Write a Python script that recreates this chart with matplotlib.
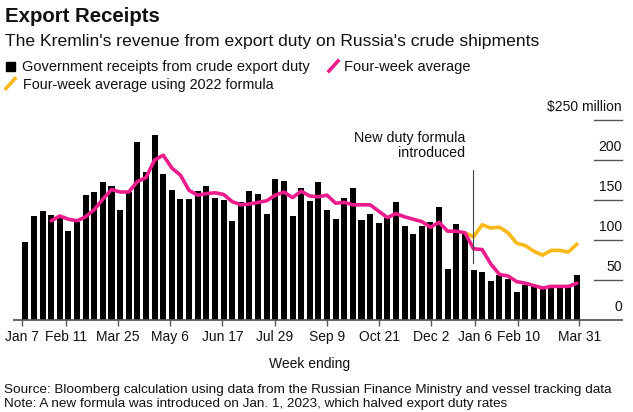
import matplotlib
matplotlib.use("Agg")
import matplotlib.pyplot as plt
import matplotlib.transforms as mtransforms
from matplotlib.patches import Rectangle
from matplotlib.lines import Line2D
import numpy as np

plt.rcParams['font.family'] = ['Liberation Sans', 'DejaVu Sans']

# weekly receipts, $ million, week ending Jan 7 2022 .. Mar 31 2023
receipts = [98, 130, 136, 131, 127, 111, 122, 156, 160, 172,
            167, 138, 160, 222, 185, 231, 183, 162, 151, 151,
            161, 168, 152, 150, 124, 147, 161, 157, 132, 176,
            174, 130, 165, 149, 172, 138, 126, 153, 165, 125,
            133, 121, 128, 148, 117, 108, 117, 122, 141, 64,
            120, 108, 62, 60, 49, 56, 51, 35, 44, 42,
            40, 41, 41, 41, 56]

# four-week average, starts at week 4
avg_4wk = [124, 130, 126, 124, 129, 138, 151, 163, 160, 160,
           173, 178, 200, 206, 190, 181, 162, 156, 158, 159,
           157, 148, 144, 145, 147, 149, 156, 160, 153, 161,
           155, 154, 156, 146, 147, 144, 144, 144, 136, 128,
           133, 129, 126, 123, 116, 122, 111, 111, 109, 89,
           88, 70, 57, 55, 48, 46, 43, 40, 42, 42,
           42, 46]
avg_start = 3

# four-week average with the old (2022) formula, from the week ending Dec 30
avg_old = [109, 104, 119, 115, 116, 109, 96, 93, 86, 81, 87, 87, 85, 95]
old_start = 51

tick_weeks = [0, 5, 11, 17, 23, 29, 35, 41, 47, 52, 57, 64]
tick_labels = ['Jan 7', 'Feb 11', 'Mar 25', 'May 6', 'Jun 17', 'Jul 29',
               'Sep 9', 'Oct 21', 'Dec 2', 'Jan 6', 'Feb 10', 'Mar 31']

y_ticks = [0, 50, 100, 150, 200, 250]
y_labels = ['0', '50', '100', '150', '200', '$250 million']

PINK = '#ec1c8c'
YELLOW = '#fbb819'
TEXT = '#111111'
AXIS = '#555555'

W, H = 633, 412
fig = plt.figure(figsize=(W / 100, H / 100), dpi=100)

def fx(px):
    return px / W

def fy(py):
    return 1 - py / H

ax = fig.add_axes([fx(14), fy(320), fx(608), (320 - 120) / H])
ax.set_ylim(0, 250)
ax.set_xlim(-1.31, 69.22)

x = np.arange(len(receipts))
ax.bar(x, receipts, width=0.7, color='black', zorder=2)
ax.plot(x[avg_start:avg_start + len(avg_4wk)], avg_4wk, color=PINK, lw=2.6,
        solid_joinstyle='round', solid_capstyle='round', zorder=4)
ax.plot(x[old_start:old_start + len(avg_old)], avg_old, color=YELLOW, lw=2.6,
        solid_joinstyle='round', solid_capstyle='round', zorder=3)

for s in ['top', 'right', 'left']:
    ax.spines[s].set_visible(False)
ax.spines['bottom'].set_color(AXIS)
ax.spines['bottom'].set_linewidth(1.3)

tick_pos = [-0.35 + w * 64.62 / 64 for w in tick_weeks]
ax.set_xticks(tick_pos)
ax.set_xticklabels(tick_labels)
ax.tick_params(axis='x', length=4.5, width=1, color=AXIS, pad=3,
               labelsize=10, labelcolor=TEXT)
ax.set_yticks([])

# right-hand value labels with short rules
blend = mtransforms.blended_transform_factory(ax.transAxes, ax.transData)
for v, lab in zip(y_ticks, y_labels):
    if v > 0:
        ax.plot([0.954, 1.0], [v, v], color=AXIS, lw=1, transform=blend,
                clip_on=False)
    ax.text(1.0, v + 11.6, lab, transform=blend, ha='right', va='baseline',
            fontsize=10, color=TEXT)

# policy change annotation
ax.plot([51.9, 51.9], [71.6, 187.5], color='#444444', lw=0.8, zorder=5)
ax.text(51.05, 222.7, 'New duty formula', ha='right', va='baseline',
        fontsize=10.3, color=TEXT)
ax.text(51.05, 204, 'introduced', ha='right', va='baseline',
        fontsize=10.3, color=TEXT)

# titles
fig.text(fx(5), fy(21.7), 'Export Receipts', fontsize=14.7, fontweight='bold',
         color=TEXT, va='baseline')
fig.text(fx(5), fy(45.7), "The Kremlin's revenue from export duty on Russia's crude shipments",
         fontsize=12.6, color=TEXT, va='baseline')

# legend
fig.patches.append(Rectangle((fx(6), fy(70.7)), fx(9), 9 / H, color='black',
                             transform=fig.transFigure))
fig.text(fx(21.7), fy(71), 'Government receipts from crude export duty',
         fontsize=10.5, color=TEXT, va='baseline')
fig.lines.append(Line2D([fx(329), fx(338)], [fy(71), fy(61)], color=PINK, lw=2.6,
                        transform=fig.transFigure))
fig.text(fx(344), fy(71), 'Four-week average', fontsize=10.5, color=TEXT,
         va='baseline')
fig.lines.append(Line2D([fx(6), fx(15)], [fy(88.5), fy(78.5)], color=YELLOW, lw=2.6,
                        transform=fig.transFigure))
fig.text(fx(23.3), fy(88.7), 'Four-week average using 2022 formula',
         fontsize=10.4, color=TEXT, va='baseline')

# axis title and footnotes
fig.text(fx(310), fy(367.7), 'Week ending', fontsize=10, color=TEXT,
         ha='center', va='baseline')
fig.text(fx(4), fy(393.3),
         'Source: Bloomberg calculation using data from the Russian Finance Ministry and vessel tracking data',
         fontsize=9.7, color=TEXT, va='baseline')
fig.text(fx(4), fy(406.7),
         'Note: A new formula was introduced on Jan. 1, 2023, which halved export duty rates',
         fontsize=9.7, color=TEXT, va='baseline')

fig.savefig('out.png', dpi=100)
